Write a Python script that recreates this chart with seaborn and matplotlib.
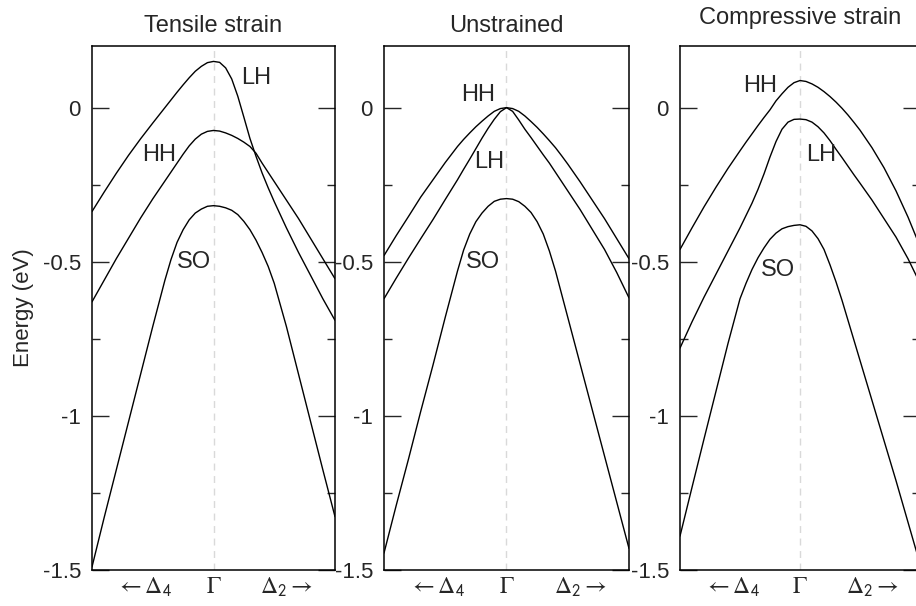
import numpy as np
import pandas as pd
import seaborn as sns
import matplotlib
matplotlib.use('Agg')
import matplotlib.pyplot as plt

# wave vector, -1 = towards Delta4, 0 = Gamma, +1 = towards Delta2
k = [-1.0, -0.9, -0.8, -0.7, -0.6, -0.5, -0.45, -0.4, -0.35, -0.3, -0.25, -0.2, -0.15, -0.1, -0.05, 0.0,
     0.05, 0.1, 0.15, 0.2, 0.25, 0.3, 0.35, 0.4, 0.45, 0.5, 0.6, 0.7, 0.8, 0.9, 1.0]

# tensile strain (eV)
tensile_lh = [-0.337, -0.274, -0.213, -0.155, -0.101, -0.05, -0.025, 0.0, 0.025, 0.05, 0.074, 0.097, 0.118, 0.134, 0.146, 0.150,
              0.147, 0.129, 0.093, 0.037, -0.031, -0.10, -0.158, -0.212, -0.26, -0.305, -0.39, -0.47, -0.545, -0.62, -0.69]
tensile_hh = [-0.63, -0.56, -0.49, -0.424, -0.358, -0.296, -0.267, -0.238, -0.209, -0.18, -0.151, -0.124, -0.102, -0.086, -0.077, -0.074,
              -0.076, -0.082, -0.09, -0.10, -0.112, -0.126, -0.148, -0.18, -0.21, -0.24, -0.30, -0.36, -0.425, -0.49, -0.555]
tensile_so = [-1.49, -1.33, -1.175, -1.02, -0.865, -0.71, -0.635, -0.56, -0.493, -0.437, -0.396, -0.364, -0.342, -0.329, -0.32, -0.318,
              -0.32, -0.325, -0.333, -0.347, -0.369, -0.396, -0.43, -0.47, -0.515, -0.57, -0.71, -0.865, -1.02, -1.175, -1.327]

# unstrained
unstr_hh = [-0.48, -0.415, -0.353, -0.29, -0.234, -0.178, -0.152, -0.126, -0.103, -0.082, -0.062, -0.044, -0.027, -0.012, -0.003, 0.0,
            -0.003, -0.012, -0.027, -0.045, -0.064, -0.085, -0.107, -0.13, -0.156, -0.183, -0.24, -0.30, -0.36, -0.425, -0.49]
unstr_lh = [-0.62, -0.553, -0.488, -0.425, -0.363, -0.298, -0.266, -0.234, -0.20, -0.167, -0.133, -0.099, -0.067, -0.038, -0.013, 0.0,
            -0.012, -0.04, -0.07, -0.097, -0.125, -0.153, -0.18, -0.21, -0.24, -0.27, -0.33, -0.395, -0.46, -0.535, -0.617]
unstr_so = [-1.445, -1.29, -1.14, -0.985, -0.835, -0.68, -0.605, -0.53, -0.462, -0.41, -0.37, -0.342, -0.32, -0.304, -0.297, -0.295,
            -0.297, -0.305, -0.32, -0.34, -0.37, -0.41, -0.465, -0.53, -0.605, -0.68, -0.83, -0.98, -1.13, -1.28, -1.43]

# compressive strain
comp_hh = [-0.46, -0.39, -0.322, -0.258, -0.197, -0.14, -0.112, -0.085, -0.058, -0.032, -0.007, 0.022, 0.045, 0.066, 0.081, 0.088,
           0.085, 0.077, 0.066, 0.052, 0.036, 0.018, -0.002, -0.024, -0.048, -0.073, -0.13, -0.195, -0.27, -0.355, -0.45]
comp_lh = [-0.78, -0.695, -0.615, -0.54, -0.465, -0.39, -0.35, -0.31, -0.265, -0.215, -0.16, -0.11, -0.07, -0.047, -0.038, -0.037,
           -0.039, -0.047, -0.062, -0.082, -0.107, -0.135, -0.162, -0.19, -0.218, -0.245, -0.30, -0.36, -0.42, -0.49, -0.57]
comp_so = [-1.39, -1.232, -1.075, -0.92, -0.765, -0.62, -0.57, -0.525, -0.487, -0.455, -0.427, -0.407, -0.393, -0.386, -0.382, -0.38,
           -0.385, -0.40, -0.425, -0.46, -0.51, -0.565, -0.625, -0.69, -0.755, -0.82, -0.95, -1.08, -1.21, -1.345, -1.48]

titles = ['Tensile strain', 'Unstrained', 'Compressive strain']
bands = [[tensile_lh, tensile_hh, tensile_so],
         [unstr_hh, unstr_lh, unstr_so],
         [comp_hh, comp_lh, comp_so]]
# band labels: (text, k, E)
labels = [[('LH', 0.35, 0.097), ('HH', -0.45, -0.153), ('SO', -0.16, -0.50)],
          [('HH', -0.23, 0.04), ('LH', -0.14, -0.175), ('SO', -0.19, -0.50)],
          [('HH', -0.33, 0.07), ('LH', 0.175, -0.153), ('SO', -0.18, -0.526)]]
xtick_pos = [-0.57, 0.0, 0.6]
xtick_lab = [r'$\leftarrow\Delta_\mathsf{4}$', r'$\Gamma$', r'$\Delta_\mathsf{2}\rightarrow$']
ytick_pos = [0, -0.5, -1, -1.5]
ytick_lab = ['0', '-0.5', '-1', '-1.5']

sns.set_style('white')
plt.rcParams['font.family'] = ['Liberation Sans', 'DejaVu Sans']
plt.rcParams['mathtext.fontset'] = 'stix'
plt.rcParams['axes.unicode_minus'] = False

fig = plt.figure(figsize=(9.16, 6.06), dpi=100)
lefts = [92, 384, 680]
widths = [243, 245, 240]
title_pads = [10, 10, 16]

for i in range(3):
    ax = fig.add_axes([lefts[i] / 916, 36 / 606, widths[i] / 916, 524 / 606])
    ax.axvline(0, color='#d9d9d9', lw=1.0, ls=(0, (5, 4)), zorder=0)
    for b in bands[i]:
        df = pd.DataFrame({'k': k, 'E': b})
        sns.lineplot(data=df, x='k', y='E', ax=ax, color='black', lw=1.0, estimator=None)
    for txt, xx, yy in labels[i]:
        ax.text(xx, yy, txt, ha='center', va='center', fontsize=17)
    ax.set_xlim(-1, 1)
    ax.set_ylim(-1.5, 0.2)
    ax.set_xticks(xtick_pos)
    ax.set_xticklabels(xtick_lab, fontsize=17)
    ax.set_yticks(ytick_pos)
    ax.set_yticklabels(ytick_lab, fontsize=16)
    ax.set_yticks([-0.25, -0.75, -1.25], minor=True)
    ax.tick_params(axis='x', length=0, pad=4)
    ax.tick_params(axis='y', which='both', direction='in', left=True, right=True, width=1.0, pad=8)
    ax.tick_params(axis='y', which='major', length=12)
    ax.tick_params(axis='y', which='minor', length=6)
    for s in ax.spines.values():
        s.set_color('black')
        s.set_linewidth(1.1)
    ax.set_xlabel('')
    ax.set_ylabel('')
    ax.set_title(titles[i], fontsize=17, pad=title_pads[i])
    if i == 0:
        ax.set_ylabel('Energy (eV)', fontsize=16, labelpad=6)

fig.savefig('out.png', dpi=100)
